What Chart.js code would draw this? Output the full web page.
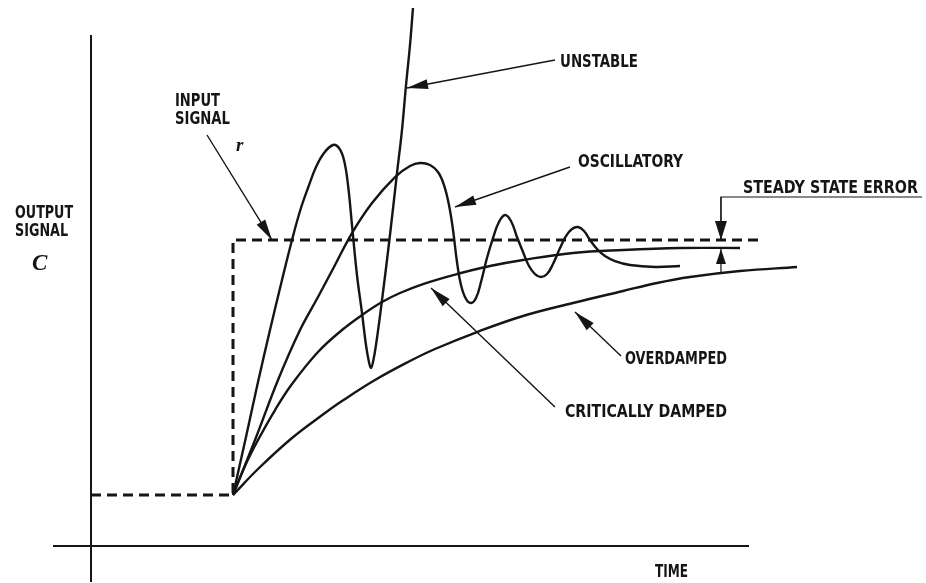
<!DOCTYPE html>
<html><head><meta charset="utf-8">
<script src="https://cdn.jsdelivr.net/npm/chart.js@4/dist/chart.umd.min.js"></script>
<style>html,body{margin:0;padding:0;background:#fff}#wrap{width:926px;height:583px;position:relative}</style>
</head><body><div id="wrap"><canvas id="c"></canvas></div>
<script>
// ---- data (time t, output value v) ----
const inputT = [0, 2, 2, 9.423];
const inputV = [1, 1, 6, 6];

const unstableT = [2.000,2.183,2.352,2.521,2.690,2.831,2.944,3.056,3.169,3.282,3.408,3.493,3.563,3.620,3.676,3.746,3.817,3.873,3.915,3.944,3.972,4.014,4.099,4.211,4.310,4.380,4.437,4.493,4.535];
const unstableV = [1.000,2.137,3.216,4.235,5.216,6.000,6.569,7.020,7.431,7.706,7.863,7.804,7.569,7.078,6.294,5.314,4.569,3.941,3.608,3.490,3.608,3.941,4.824,6.098,7.314,8.157,9.039,9.824,10.549];

const oscT = [2.000,2.310,2.634,2.944,3.197,3.437,3.676,3.958,4.282,4.493,4.634,4.775,4.887,4.972,5.042,5.099,5.155,5.211,5.282,5.352,5.423,5.493,5.577,5.662,5.746,5.831,5.915,6.000,6.085,6.169,6.254,6.338,6.423,6.507,6.606,6.690,6.775,6.859,6.944,7.028,7.127,7.239,7.380,7.592,7.944,8.296];
const oscV = [1.000,2.078,3.255,4.235,4.882,5.510,6.137,6.725,7.235,7.451,7.510,7.471,7.333,7.078,6.686,6.196,5.569,5.118,4.843,4.765,4.863,5.176,5.647,6.039,6.353,6.490,6.373,6.059,5.765,5.490,5.333,5.275,5.333,5.529,5.843,6.078,6.216,6.255,6.176,6.000,5.824,5.686,5.588,5.510,5.471,5.490];

const critT = [2.000,2.169,2.352,2.592,2.831,3.197,3.535,3.817,4.099,4.352,4.676,5.155,5.620,6.085,6.789,7.493,8.296,9.141];
const critV = [1.000,1.569,2.078,2.667,3.176,3.804,4.235,4.529,4.784,4.961,5.137,5.333,5.490,5.608,5.745,5.804,5.843,5.843];

const overT = [2.000,2.352,2.831,3.296,3.535,4.000,4.465,4.845,5.437,6.085,6.789,7.493,7.972,8.437,9.141,9.944];
const overV = [1.000,1.510,2.118,2.608,2.843,3.255,3.608,3.863,4.196,4.510,4.765,5.000,5.157,5.275,5.392,5.471];

// ---- annotation texts and anchors (data coords) ----
const labelTexts = ["UNSTABLE","OSCILLATORY","STEADY STATE ERROR","OVERDAMPED","CRITICALLY DAMPED","TIME","INPUT","SIGNAL","OUTPUT","SIGNAL"];
const labelT = [6.606,6.859,9.183,7.521,6.676,7.944,1.183,1.183,-1.070,-1.070];
const labelV = [9.510,7.549,7.039,3.686,2.647,-0.490,8.745,8.392,6.549,6.196];
const labelW = [78,105,175,102,162,33,45,55,58,53];

const arrowFrom = [[1.634,8.059],[6.535,9.529],[6.746,7.431],[7.465,3.725],[6.535,2.725]];
const arrowTo   = [[2.549,6.000],[4.451,8.980],[5.127,6.647],[6.817,4.588],[4.789,5.059]];

function pts(ts, vs){ return ts.map((t,i)=>({x:t, y:vs[i]})); }

const INK = '#151515';
const curve = (ts, vs) => ({data: pts(ts, vs), showLine:true, borderColor:INK, borderWidth:2.4, pointRadius:0, tension:0.4, fill:false});

function arrow(ctx, x1, y1, x2, y2, len, hw, lw){
  ctx.lineWidth = lw;
  ctx.beginPath(); ctx.moveTo(x1,y1); ctx.lineTo(x2,y2); ctx.stroke();
  const dx=x2-x1, dy=y2-y1, d=Math.hypot(dx,dy), ux=dx/d, uy=dy/d;
  const bx=x2-ux*len, by=y2-uy*len;
  ctx.beginPath(); ctx.moveTo(x2,y2); ctx.lineTo(bx-uy*hw, by+ux*hw); ctx.lineTo(bx+uy*hw, by-ux*hw); ctx.closePath(); ctx.fill();
}

const overlay = {
  id:'overlay',
  beforeDatasetsDraw(chart){
    const {ctx, scales:{x, y}} = chart;
    const X=t=>x.getPixelForValue(t), Y=v=>y.getPixelForValue(v);
    ctx.save();
    ctx.strokeStyle=INK; ctx.lineWidth=2;
    ctx.beginPath();
    ctx.moveTo(X(0), Y(10.02)); ctx.lineTo(X(0), Y(-0.706));
    ctx.moveTo(X(-0.535), Y(0)); ctx.lineTo(X(9.268), Y(0));
    ctx.stroke();
    ctx.restore();
  },
  afterDatasetsDraw(chart){
    const {ctx, scales:{x, y}} = chart;
    const X=t=>x.getPixelForValue(t), Y=v=>y.getPixelForValue(v);
    ctx.save();
    ctx.strokeStyle=INK; ctx.fillStyle=INK;
    arrowFrom.forEach((f,i)=>{
      arrow(ctx, X(f[0]), Y(f[1]), X(arrowTo[i][0]), Y(arrowTo[i][1]), 21, 5, 1.4);
    });
    // steady state error marker
    ctx.lineWidth=1.2;
    ctx.beginPath(); ctx.moveTo(X(11.704), Y(6.843)); ctx.lineTo(X(8.873), Y(6.843)); ctx.lineTo(X(8.873), Y(6.0)); ctx.stroke();
    arrow(ctx, X(8.873), Y(6.843), X(8.873), Y(6.0), 19, 6, 1.2);
    arrow(ctx, X(8.873), Y(5.373), X(8.873), Y(5.824), 15, 5, 1.2);
    // labels
    ctx.textBaseline='alphabetic';
    const fs=17;
    ctx.font = 'bold '+fs+'px "DejaVu Sans Condensed", "Liberation Sans Narrow", sans-serif';
    labelTexts.forEach((s,i)=>{
      const w = ctx.measureText(s).width;
      const sx = labelW[i]/w;
      ctx.save();
      ctx.translate(X(labelT[i]), Y(labelV[i]) + fs*0.36);
      ctx.scale(sx, 1);
      ctx.fillText(s, 0, 0);
      ctx.restore();
    });
    ctx.font = 'bold italic 19px "Liberation Serif", serif';
    ctx.fillText('r', X(2.042), Y(7.863)+6);
    ctx.font = 'bold italic 23px "Liberation Serif", serif';
    ctx.fillText('C', X(-0.831), Y(5.569)+8);
    ctx.restore();
  }
};

new Chart(document.getElementById('c'), {
  type:'scatter',
  data:{datasets:[
    {data: pts(inputT, inputV), showLine:true, borderColor:INK, borderWidth:3, borderDash:[10,6], pointRadius:0, tension:0, fill:false},
    curve(unstableT, unstableV),
    curve(oscT, oscV),
    curve(critT, critV),
    curve(overT, overV)
  ]},
  options:{
    responsive:true, maintainAspectRatio:false, animation:false,
    layout:{padding:0},
    plugins:{legend:{display:false}, tooltip:{enabled:false}},
    scales:{
      x:{type:'linear', min:-1.282, max:11.761, display:false},
      y:{type:'linear', min:-0.725, max:10.706, display:false}
    }
  },
  plugins:[overlay]
});
</script></body></html>
